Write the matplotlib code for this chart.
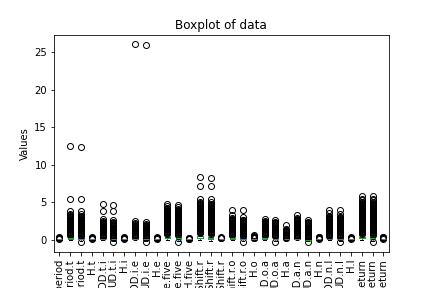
import matplotlib
matplotlib.use("Agg")
from matplotlib import pyplot as plt

#column names of the keystroke table
names = ['H.period', 'DD.period.t', 'UD.period.t', 'H.t', 'DD.t.i', 'UD.t.i', 'H.i',
         'DD.i.e', 'UD.i.e', 'H.e', 'DD.e.five', 'UD.e.five', 'H.five',
         'DD.five.Shift.r', 'UD.five.Shift.r', 'H.Shift.r', 'DD.Shift.r.o', 'UD.Shift.r.o',
         'H.o', 'DD.o.a', 'UD.o.a', 'H.a', 'DD.a.n', 'UD.a.n', 'H.n', 'DD.n.l', 'UD.n.l',
         'H.l', 'DD.l.Return', 'UD.l.Return', 'H.Return']

#box stats
q1  = [.07, .17, .07, .07, .10, .02, .07, .10, .02, .07, .19, .11, .06, .21, .14, .08,
       .16, .05, .08, .17, .06, .08, .11, .00, .07, .14, .05, .07, .21, .13, .07]
med = [.09, .23, .13, .08, .14, .06, .08, .13, .05, .09, .28, .19, .07, .31, .24, .10,
       .22, .11, .10, .23, .12, .10, .14, .04, .09, .18, .09, .08, .30, .22, .09]
q3  = [.11, .33, .24, .10, .20, .12, .09, .18, .10, .10, .41, .32, .09, .46, .38, .12,
       .31, .21, .12, .32, .21, .12, .19, .09, .10, .25, .16, .10, .43, .35, .11]
lo  = [.03, .00, -.20, .03, .00, -.14, .04, .00, -.10, .04, .00, -.20, .02, .00, -.20, .03,
       .00, -.18, .03, .00, -.16, .03, .00, -.13, .03, .00, -.12, .03, .00, -.20, .02]
hi  = [.16, .56, .47, .14, .35, .27, .13, .30, .22, .15, .74, .63, .13, .83, .74, .18,
       .53, .45, .18, .54, .44, .18, .31, .22, .15, .41, .32, .14, .76, .67, .16]

#outliers
fl_h_period = [0.18, 0.21, 0.25, 0.3, 0.36]
fl_dd_period_t = [0.6, 0.7, 0.8, 0.9, 1.0, 1.1, 1.2, 1.3, 1.4, 1.5, 1.6, 1.7, 1.8, 1.9, 2.0,
                  2.1, 2.2, 2.3, 2.4, 2.5, 2.6, 2.7, 2.8, 2.9, 3.0, 3.1, 3.2, 3.3, 3.5, 3.8,
                  5.4, 12.5]
fl_ud_period_t = [-0.3, 0.5, 0.6, 0.7, 0.8, 0.9, 1.0, 1.1, 1.2, 1.3, 1.4, 1.5, 1.6, 1.7, 1.8,
                  1.9, 2.0, 2.1, 2.2, 2.3, 2.4, 2.5, 2.6, 2.7, 2.8, 2.9, 3.0, 3.1, 3.2, 3.5,
                  3.8, 5.4, 12.4]
fl_h_t = [0.16, 0.2, 0.25, 0.3, 0.35]
fl_dd_t_i = [0.4, 0.5, 0.6, 0.7, 0.8, 0.9, 1.0, 1.1, 1.2, 1.3, 1.4, 1.5, 1.6, 1.7, 1.8, 1.9,
             2.0, 2.1, 2.2, 2.3, 2.4, 2.5, 2.8, 3.9, 4.8]
fl_ud_t_i = [-0.3, 0.3, 0.4, 0.5, 0.6, 0.7, 0.8, 0.9, 1.0, 1.1, 1.2, 1.3, 1.4, 1.5, 1.6, 1.7,
             1.8, 1.9, 2.0, 2.1, 2.2, 2.3, 2.4, 2.7, 3.9, 4.7]
fl_h_i = [0.15, 0.19, 0.24, 0.3, 0.35]
fl_dd_i_e = [0.4, 0.5, 0.6, 0.7, 0.8, 0.9, 1.0, 1.1, 1.2, 1.3, 1.4, 1.5, 1.6, 1.7, 1.8, 1.9,
             2.0, 2.1, 2.2, 2.5, 26.0]
fl_ud_i_e = [-0.3, 0.3, 0.4, 0.5, 0.6, 0.7, 0.8, 0.9, 1.0, 1.1, 1.2, 1.3, 1.4, 1.5, 1.6, 1.7,
             1.8, 1.9, 2.0, 2.1, 2.4, 25.9]
fl_h_e = [0.17, 0.21, 0.26, 0.31, 0.36]
fl_dd_e_five = [0.8, 0.9, 1.0, 1.1, 1.2, 1.3, 1.4, 1.5, 1.6, 1.7, 1.8, 1.9, 2.0, 2.1, 2.2, 2.3,
                2.4, 2.5, 2.6, 2.7, 2.8, 2.9, 3.0, 3.1, 3.2, 3.3, 3.4, 3.5, 3.6, 3.7, 3.8,
                3.9, 4.0, 4.1, 4.2, 4.3, 4.5, 4.8]
fl_ud_e_five = [-0.25, 0.7, 0.8, 0.9, 1.0, 1.1, 1.2, 1.3, 1.4, 1.5, 1.6, 1.7, 1.8, 1.9, 2.0,
                2.1, 2.2, 2.3, 2.4, 2.5, 2.6, 2.7, 2.8, 2.9, 3.0, 3.1, 3.2, 3.3, 3.4, 3.5,
                3.6, 3.7, 3.8, 3.9, 4.0, 4.1, 4.4, 4.7]
fl_h_five = [0.15, 0.18, 0.22, 0.27]
fl_dd_five_shift = [0.9, 1.0, 1.1, 1.2, 1.3, 1.4, 1.5, 1.6, 1.7, 1.8, 1.9, 2.0, 2.1, 2.2, 2.3,
                    2.4, 2.5, 2.6, 2.7, 2.8, 2.9, 3.0, 3.1, 3.2, 3.3, 3.4, 3.5, 3.6, 3.7, 3.8,
                    3.9, 4.0, 4.1, 4.2, 4.3, 4.4, 4.5, 4.6, 4.7, 4.8, 4.9, 5.1, 5.4, 7.2, 8.3]
fl_ud_five_shift = [0.8, 0.9, 1.0, 1.1, 1.2, 1.3, 1.4, 1.5, 1.6, 1.7, 1.8, 1.9, 2.0, 2.1, 2.2,
                    2.3, 2.4, 2.5, 2.6, 2.7, 2.8, 2.9, 3.0, 3.1, 3.2, 3.3, 3.4, 3.5, 3.6, 3.7,
                    3.8, 3.9, 4.0, 4.1, 4.2, 4.3, 4.4, 4.5, 4.6, 4.7, 4.8, 5.1, 5.4, 7.2, 8.2]
fl_h_shift = [0.2, 0.24, 0.28, 0.33]
fl_dd_shift_o = [0.6, 0.7, 0.8, 0.9, 1.0, 1.1, 1.2, 1.3, 1.4, 1.5, 1.6, 1.7, 1.8, 1.9, 2.0,
                 2.1, 2.2, 2.3, 2.4, 2.5, 2.6, 2.7, 2.8, 2.9, 3.3, 4.0]
fl_ud_shift_o = [-0.25, 0.5, 0.6, 0.7, 0.8, 0.9, 1.0, 1.1, 1.2, 1.3, 1.4, 1.5, 1.6, 1.7, 1.8,
                 1.9, 2.0, 2.1, 2.2, 2.3, 2.4, 2.5, 2.6, 2.7, 3.1, 4.0]
fl_h_o = [0.2, 0.25, 0.3, 0.36, 0.43, 0.5, 0.6]
fl_dd_o_a = [0.6, 0.7, 0.8, 0.9, 1.0, 1.1, 1.2, 1.3, 1.4, 1.5, 1.6, 1.7, 1.8, 1.9, 2.0, 2.1,
             2.2, 2.3, 2.4, 2.5, 2.8]
fl_ud_o_a = [-0.3, 0.5, 0.6, 0.7, 0.8, 0.9, 1.0, 1.1, 1.2, 1.3, 1.4, 1.5, 1.6, 1.7, 1.8, 1.9,
             2.0, 2.1, 2.2, 2.3, 2.4, 2.7]
fl_h_a = [0.2, 0.3, 0.4, 0.5, 0.6, 0.7, 0.8, 0.9, 1.0, 1.1, 1.2, 1.3, 1.5, 2.0]
fl_dd_a_n = [0.4, 0.5, 0.6, 0.7, 0.8, 0.9, 1.0, 1.1, 1.2, 1.3, 1.4, 1.5, 1.6, 1.7, 1.8, 1.9,
             2.0, 2.1, 2.2, 2.3, 2.4, 2.5, 2.6, 2.7, 2.8, 2.9, 3.3]
fl_ud_a_n = [-0.3, 0.3, 0.4, 0.5, 0.6, 0.7, 0.8, 0.9, 1.0, 1.1, 1.2, 1.3, 1.4, 1.5, 1.6, 1.7,
             1.8, 1.9, 2.0, 2.1, 2.2, 2.3, 2.4, 2.7]
fl_h_n = [0.17, 0.21, 0.26, 0.32, 0.38]
fl_dd_n_l = [0.5, 0.6, 0.7, 0.8, 0.9, 1.0, 1.1, 1.2, 1.3, 1.4, 1.5, 1.6, 1.7, 1.8, 1.9, 2.0,
             2.1, 2.2, 2.3, 2.4, 2.5, 2.6, 2.7, 2.8, 2.9, 3.0, 3.1, 3.2, 3.6, 4.0]
fl_ud_n_l = [-0.3, 0.4, 0.5, 0.6, 0.7, 0.8, 0.9, 1.0, 1.1, 1.2, 1.3, 1.4, 1.5, 1.6, 1.7, 1.8,
             1.9, 2.0, 2.1, 2.2, 2.3, 2.4, 2.5, 2.6, 2.7, 2.8, 2.9, 3.0, 3.1, 3.5, 4.0]
fl_h_l = [0.16, 0.2, 0.25, 0.3, 0.36]
fl_dd_l_ret = [0.8, 0.9, 1.0, 1.1, 1.2, 1.3, 1.4, 1.5, 1.6, 1.7, 1.8, 1.9, 2.0, 2.1, 2.2, 2.3,
               2.4, 2.5, 2.6, 2.7, 2.8, 2.9, 3.0, 3.1, 3.2, 3.3, 3.4, 3.5, 3.6, 3.7, 3.8, 3.9,
               4.0, 4.1, 4.2, 4.3, 4.4, 4.5, 4.6, 4.7, 4.8, 4.9, 5.0, 5.1, 5.3, 5.5, 5.8]
fl_ud_l_ret = [-0.3, 0.7, 0.8, 0.9, 1.0, 1.1, 1.2, 1.3, 1.4, 1.5, 1.6, 1.7, 1.8, 1.9, 2.0, 2.1,
               2.2, 2.3, 2.4, 2.5, 2.6, 2.7, 2.8, 2.9, 3.0, 3.1, 3.2, 3.3, 3.4, 3.5, 3.6, 3.7,
               3.8, 3.9, 4.0, 4.1, 4.2, 4.3, 4.4, 4.5, 4.6, 4.7, 4.8, 4.9, 5.0, 5.3, 5.5, 5.8]
fl_h_ret = [0.18, 0.22, 0.27, 0.32, 0.37]

fliers = [fl_h_period, fl_dd_period_t, fl_ud_period_t, fl_h_t, fl_dd_t_i, fl_ud_t_i, fl_h_i,
          fl_dd_i_e, fl_ud_i_e, fl_h_e, fl_dd_e_five, fl_ud_e_five, fl_h_five,
          fl_dd_five_shift, fl_ud_five_shift, fl_h_shift, fl_dd_shift_o, fl_ud_shift_o,
          fl_h_o, fl_dd_o_a, fl_ud_o_a, fl_h_a, fl_dd_a_n, fl_ud_a_n, fl_h_n, fl_dd_n_l,
          fl_ud_n_l, fl_h_l, fl_dd_l_ret, fl_ud_l_ret, fl_h_ret]

stats = []
for i in range(len(names)):
    stats.append({'label': names[i], 'q1': q1[i], 'med': med[i], 'q3': q3[i],
                  'whislo': lo[i], 'whishi': hi[i], 'fliers': fliers[i]})

fig, ax = plt.subplots(figsize=(6, 4), dpi=72)
fig.subplots_adjust(left=0.125, right=0.9, top=0.88, bottom=0.125)
ax.bxp(stats,
       boxprops=dict(color='#1f77b4'),
       whiskerprops=dict(color='#1f77b4'),
       medianprops=dict(color='#2ca02c'),
       capprops=dict(color='k'),
       flierprops=dict(marker='o', markerfacecolor='none', markeredgecolor='k'))
ax.tick_params(axis='x', labelrotation=90)
ax.set_title('Boxplot of data')
ax.set_ylabel('Values')
fig.savefig('out.png', dpi=72)
